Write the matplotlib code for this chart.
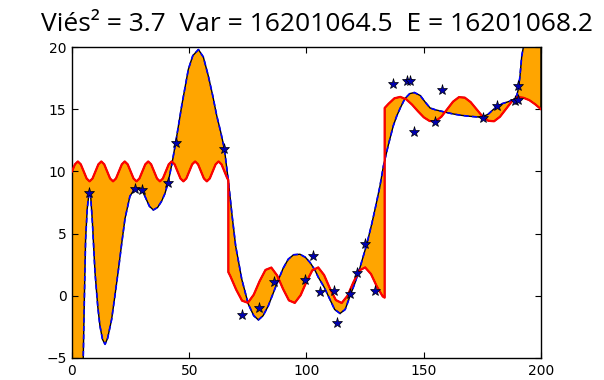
import numpy as np
import matplotlib
matplotlib.use("Agg")
import matplotlib.pyplot as plt

# true function (red), piecewise in three thirds of [0, 200]
red_x = ([i * 1.25 for i in range(54)] + [66.67, 66.67]
         + [67.5 + i * 2.5 for i in range(27)] + [133.33, 133.33]
         + [135 + i * 2.5 for i in range(27)])
red_y = [
    # 0 .. 66.25, step 1.25
    10.0, 10.57, 10.8, 10.57, 10.0, 9.43, 9.2, 9.43,
    10.0, 10.57, 10.8, 10.57, 10.0, 9.43, 9.2, 9.43,
    10.0, 10.57, 10.8, 10.57, 10.0, 9.43, 9.2, 9.43,
    10.0, 10.57, 10.8, 10.57, 10.0, 9.43, 9.2, 9.43,
    10.0, 10.57, 10.8, 10.57, 10.0, 9.43, 9.2, 9.43,
    10.0, 10.57, 10.8, 10.57, 10.0, 9.43, 9.2, 9.43,
    10.0, 10.57, 10.8, 10.57, 10.0, 9.43,
    # jump at 66.67
    9.31, 1.9,
    # 67.5 .. 132.5, step 2.5
    1.59, 0.50, -0.39, -0.56, 0.09, 1.18, 2.08, 2.27, 1.63, 0.55,
    -0.37, -0.57, 0.05, 1.13, 2.05, 2.28, 1.67, 0.59, -0.34, -0.58,
    0.01, 1.09, 2.03, 2.28, 1.75, 0.75, -0.05,
    # jump at 133.33
    -0.15, 15.1,
    # 135 .. 200, step 2.5
    15.44, 15.88, 15.99, 15.8, 15.37, 14.84, 14.35, 14.05, 14.03, 14.39,
    15.0, 15.61, 15.97, 15.93, 15.57, 15.0, 14.43, 14.07, 14.03, 14.39,
    15.0, 15.61, 15.97, 15.92, 15.73, 15.4, 15.0,
]

# fitted polynomial (blue)
blue_x = [0, 4.0, 4.8, 5.3, 5.8, 6.5, 7.1, 7.4, 8.0, 8.7, 9.8, 11.0, 11.9,
          13.0, 14.1, 15.2, 16.9, 18.3, 19.8, 21.2, 22.6, 24.7, 26.5, 28.3,
          30.0, 31.1, 33.0, 34.7, 36.5, 38.2, 39.6, 41.0, 42.6, 44.2, 46.8,
          49.6, 51.5, 53.9, 56.0, 58.1, 60.0, 61.7, 63.5, 65.0, 66.7, 68.3,
          69.8, 72.4, 75.2, 77.5, 79.5, 81.5, 83.7, 86.0, 88.0, 90.0, 92.2,
          94.5, 97.2, 99.5, 101.5, 103.5, 105.0, 107.5, 110.0, 112.0, 114.3,
          116.5, 118.6, 120.8, 122.8, 125.7, 127.8, 129.5, 131.3, 132.8,
          135.0, 137.0, 138.5, 140.0, 142.0, 144.0, 146.0, 148.5, 150.5,
          152.7, 155.0, 157.0, 159.8, 162.5, 165.5, 168.5, 171.5, 174.7,
          177.5, 179.5, 181.1, 183.5, 186.0, 188.5, 189.5, 190.3, 191.0,
          191.8, 192.5, 194.0, 200.0]
blue_y = [-40.0, -13.0, -5.0, 0.0, 4.5, 7.0, 8.0, 8.4, 7.9, 5.9, 1.9, -0.9, -2.4,
          -3.5, -3.9, -3.4, -1.9, 0.0, 2.1, 4.2, 6.2, 8.0, 8.55, 8.65,
          8.4, 8.0, 7.2, 6.9, 7.1, 7.6, 8.2, 9.1, 10.6, 12.3, 15.3,
          18.2, 19.3, 19.8, 19.2, 17.7, 16.1, 14.5, 13.1, 11.8, 9.2, 6.4,
          4.0, 1.33, -0.68, -1.6, -1.94, -1.6, -0.81, 0.3, 1.28, 2.2, 2.94,
          3.3, 3.34, 3.1, 2.68, 2.1, 1.5, 0.7, -0.3, -1.1, -1.42,
          -1.1, 0.0, 1.1, 2.27, 4.15, 5.76, 7.2, 8.8, 10.44,
          12.2, 13.66, 14.46, 15.1, 15.86, 16.25, 16.34, 16.1, 15.6,
          15.1, 14.95, 14.86, 14.73, 14.62, 14.52, 14.45, 14.4, 14.35,
          14.6, 14.95, 15.2, 15.45, 15.6, 15.75, 15.95, 16.6, 17.6,
          19.3, 20.0, 26.0, 60.0]

# noisy samples
pts_x = [7.3, 26.9, 30.0, 41.1, 44.2, 65.0,
         72.7, 79.9, 86.2, 99.4, 102.8, 105.7, 111.9, 113.0, 118.6, 121.4, 125.0, 129.0,
         137.0, 143.0, 144.3, 145.7, 154.8, 157.9, 175.1, 181.1, 189.0, 190.1, 190.3]
pts_y = [8.3, 8.57, 8.5, 9.1, 12.3, 11.8,
         -1.55, -1.0, 1.07, 1.28, 3.23, 0.28, 0.38, -2.22, 0.18, 1.82, 4.2, 0.36,
         17.0, 17.3, 17.3, 13.15, 13.95, 16.53, 14.33, 15.26, 15.65, 15.75, 16.87]

title = "Viés² = 3.7  Var = 16201064.5  E = 16201068.2"

fig = plt.figure(figsize=(6.04, 3.8), dpi=100)
ax = fig.add_axes([0.1192, 0.0579, 0.7765, 0.8184])

# area between fit and true function
poly_x = np.concatenate([blue_x, red_x[::-1]])
poly_y = np.concatenate([blue_y, red_y[::-1]])
ax.fill(poly_x, poly_y, facecolor="orange", edgecolor="k", linewidth=1, zorder=1)

ax.plot(blue_x, blue_y, color="b", linestyle="--", dashes=(3, 2), linewidth=1.2, zorder=2)
ax.plot(red_x, red_y, color="r", linewidth=1.6, zorder=3)
ax.plot(pts_x, pts_y, "*", color="#0000b0", markeredgecolor="k",
        markeredgewidth=0.5, markersize=8, zorder=4)

ax.set_xlim(0, 200)
ax.set_ylim(-5, 20)
ax.set_xticks([0, 50, 100, 150, 200])
ax.set_yticks([-5, 0, 5, 10, 15, 20])
ax.tick_params(direction="in", top=True, right=True, length=4, labelsize=10, pad=4)
for s in ax.spines.values():
    s.set_linewidth(1)

fig.text(0.525, 0.918, title, ha="center", va="baseline", fontsize=19,
         family=["Open Sans", "DejaVu Sans"])

fig.savefig("out.png", dpi=100)
